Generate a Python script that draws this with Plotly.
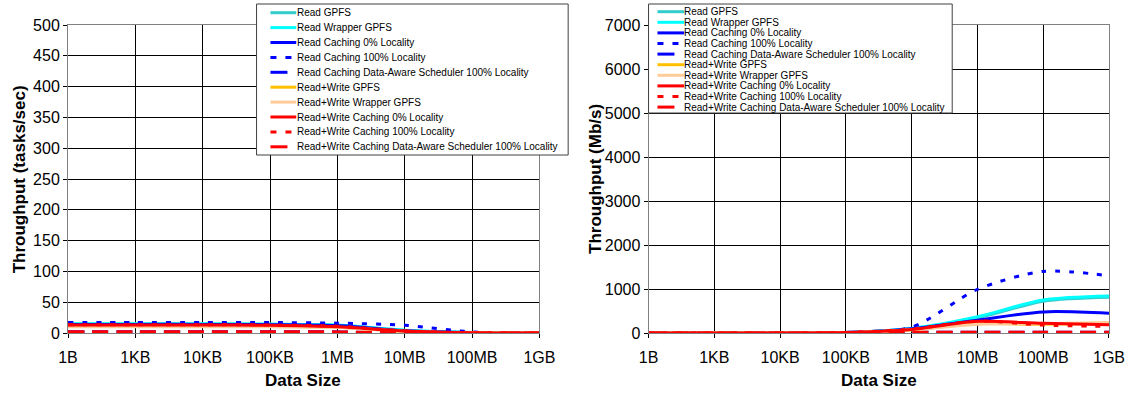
import plotly.graph_objects as go

# ---------------- data ----------------
sizes = ["1B", "1KB", "10KB", "100KB", "1MB", "10MB", "100MB", "1GB"]

series_names = [
    "Read GPFS",
    "Read Wrapper GPFS",
    "Read Caching 0% Locality",
    "Read Caching 100% Locality",
    "Read Caching Data-Aware Scheduler 100% Locality",
    "Read+Write GPFS",
    "Read+Write Wrapper GPFS",
    "Read+Write Caching 0% Locality",
    "Read+Write Caching 100% Locality",
    "Read+Write Caching Data-Aware Scheduler 100% Locality",
]

# Throughput (tasks/sec)
tasks_read_gpfs = [14.5, 14.5, 14.5, 14.0, 12.5, 4.2, 0.9, 0.1]
tasks_read_wrapper = [15.0, 15.0, 15.0, 14.5, 13.0, 4.6, 0.95, 0.1]
tasks_read_cache0 = [14.0, 14.0, 14.0, 13.5, 12.0, 3.6, 0.6, 0.06]
tasks_read_cache100 = [17.0, 17.0, 17.0, 17.0, 16.0, 12.5, 1.8, 0.16]
tasks_read_aware = [2.0, 2.0, 2.0, 2.0, 1.8, 0.2, 0.02, 0.0]
tasks_rw_gpfs = [11.0, 11.0, 11.0, 10.5, 9.5, 2.6, 0.25, 0.03]
tasks_rw_wrapper = [10.0, 10.0, 10.0, 10.0, 9.0, 2.5, 0.26, 0.03]
tasks_rw_cache0 = [13.0, 13.0, 13.0, 12.5, 10.0, 3.3, 0.3, 0.03]
tasks_rw_cache100 = [13.5, 13.5, 13.5, 13.0, 11.0, 3.4, 0.22, 0.02]
tasks_rw_aware = [2.0, 2.0, 2.0, 2.0, 1.8, 0.2, 0.02, 0.0]

# Throughput (Mb/s)
mbps_read_gpfs = [0.0, 0.1, 1.2, 11.0, 100.0, 340.0, 720.0, 810.0]
mbps_read_wrapper = [0.0, 0.1, 1.2, 11.5, 105.0, 370.0, 750.0, 840.0]
mbps_read_cache0 = [0.0, 0.1, 1.1, 10.8, 96.0, 290.0, 480.0, 450.0]
mbps_read_cache100 = [0.0, 0.1, 1.4, 13.6, 135.0, 990.0, 1400.0, 1300.0]
mbps_read_aware = [0.0, 0.0, 0.2, 1.6, 14.0, 16.0, 16.0, 15.0]
mbps_rw_gpfs = [0.0, 0.1, 0.9, 8.4, 76.0, 210.0, 200.0, 225.0]
mbps_rw_wrapper = [0.0, 0.1, 0.8, 8.0, 72.0, 200.0, 210.0, 240.0]
mbps_rw_cache0 = [0.0, 0.1, 1.0, 10.0, 80.0, 265.0, 220.0, 190.0]
mbps_rw_cache100 = [0.0, 0.1, 1.1, 10.4, 88.0, 272.0, 180.0, 150.0]
mbps_rw_aware = [0.0, 0.0, 0.2, 1.6, 14.0, 16.0, 16.0, 15.0]

left_values = [tasks_read_gpfs, tasks_read_wrapper, tasks_read_cache0, tasks_read_cache100,
               tasks_read_aware, tasks_rw_gpfs, tasks_rw_wrapper, tasks_rw_cache0,
               tasks_rw_cache100, tasks_rw_aware]
right_values = [mbps_read_gpfs, mbps_read_wrapper, mbps_read_cache0, mbps_read_cache100,
                mbps_read_aware, mbps_rw_gpfs, mbps_rw_wrapper, mbps_rw_cache0,
                mbps_rw_cache100, mbps_rw_aware]

# ---------------- styles ----------------
colors = ["#33CCCC", "#00FFFF", "#0000FF", "#0000FF", "#0000FF",
          "#FFC000", "#FFCC99", "#FF0000", "#FF0000", "#FF0000"]
dashes = ["solid", "solid", "solid", "5px,9px", "16px,8px",
          "solid", "solid", "solid", "5px,9px", "16px,8px"]

W, H = 1137, 393
ML, MR, MT, MB = 68, 20, 25, 60
PW = W - ML - MR
PH = H - MT - MB


def px(xp):
    """page pixel x -> paper coordinate"""
    return (xp - ML) / PW


def py(yp):
    """page pixel y -> paper coordinate"""
    return (H - MB - yp) / PH


FONT = "Liberation Sans, Arial, sans-serif"

fig = go.Figure()
xpos = list(range(len(sizes)))
for vals, xa, ya in ((left_values, "x", "y"), (right_values, "x2", "y2")):
    for name, v, c, d in zip(series_names, vals, colors, dashes):
        fig.add_trace(go.Scatter(
            x=xpos, y=v, name=name, xaxis=xa, yaxis=ya, mode="lines",
            line=dict(color=c, width=3, dash=d, shape="spline", smoothing=0.8),
            showlegend=False, hoverinfo="skip"))

axis_common = dict(
    showgrid=True, gridcolor="#000000", gridwidth=1,
    showline=True, linecolor="#808080", linewidth=1, mirror=True,
    ticks="outside", ticklen=4, tickcolor="#000000",
    tickfont=dict(family=FONT, size=16, color="#000000"),
    zeroline=False,
)

fig.update_layout(
    width=W, height=H,
    margin=dict(l=ML, r=MR, t=MT, b=MB),
    paper_bgcolor="white", plot_bgcolor="white",
    showlegend=False,
    xaxis=dict(domain=[0, px(543)], range=[0, 7], tickvals=xpos, ticktext=sizes,
               anchor="y", ticklabelstandoff=6, **axis_common),
    yaxis=dict(domain=[0, 1], range=[0, 500], dtick=50, anchor="x", **axis_common),
    xaxis2=dict(domain=[px(653), 1.0], range=[0, 7], tickvals=xpos, ticktext=sizes,
                anchor="y2", ticklabelstandoff=6, **axis_common),
    yaxis2=dict(domain=[0, 1], range=[0, 7000], dtick=1000, anchor="x2", **axis_common),
)

annotations = []
shapes = []
# axis titles
title_font = dict(family=FONT, size=17, color="#000000")
annotations.append(dict(x=px(305), y=py(380), xref="paper", yref="paper", text="<b>Data Size</b>",
                        showarrow=False, font=title_font, xanchor="center", yanchor="middle"))
annotations.append(dict(x=px(885), y=py(380), xref="paper", yref="paper", text="<b>Data Size</b>",
                        showarrow=False, font=title_font, xanchor="center", yanchor="middle"))
annotations.append(dict(x=px(19), y=0.5, xref="paper", yref="paper", text="<b>Throughput (tasks/sec)</b>",
                        showarrow=False, font=title_font, textangle=-90, xanchor="center", yanchor="middle"))
annotations.append(dict(x=px(599), y=0.5, xref="paper", yref="paper", text="<b>Throughput (Mb/s)</b>",
                        showarrow=False, font=title_font, textangle=-90, xanchor="center", yanchor="middle"))

# legends (drawn manually to match compact spacing)
legend_specs = [
    # box x0, x1, y0, y1, sample x0, x1, text x, first y, spacing
    (258, 572, 4, 155, 272, 298, 298, 12.7, 14.9),
    (653, 959, 4, 113, 662, 689, 688, 11.7, 10.6),
]
for bx0, bx1, by0, by1, sx0, sx1, tx, fy, sp in legend_specs:
    shapes.append(dict(type="rect", xref="paper", yref="paper",
                       x0=px(bx0), x1=px(bx1), y0=py(by1), y1=py(by0),
                       line=dict(color="#404040", width=1), fillcolor="white", layer="above"))
    for i, (name, c, d) in enumerate(zip(series_names, colors, dashes)):
        yy = fy + i * sp
        if "Data-Aware" in name:
            ld = "17px,20px"
        elif "100%" in name:
            ld = "6px,9px"
        else:
            ld = "solid"
        shapes.append(dict(type="line", xref="paper", yref="paper",
                           x0=px(sx0), x1=px(sx1), y0=py(yy), y1=py(yy),
                           line=dict(color=c, width=3, dash=ld), layer="above"))
        annotations.append(dict(x=px(tx), y=py(yy), xref="paper", yref="paper", text=name,
                                showarrow=False, xanchor="left", yanchor="middle",
                                font=dict(family=FONT, size=10, color="#000000"),
                                borderpad=0))

fig.update_layout(annotations=annotations, shapes=shapes)
fig.write_html(
    "out.html",
    config={"displayModeBar": False},
    post_script="document.body.style.margin='0';document.body.style.overflow='hidden';",
)
